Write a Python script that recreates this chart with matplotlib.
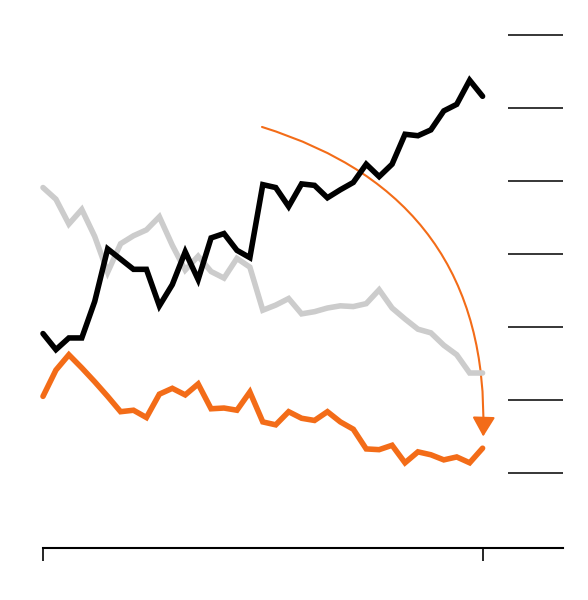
import matplotlib
matplotlib.use("Agg")
import matplotlib.pyplot as plt
from matplotlib.patches import FancyArrowPatch

# values (35 periods)
black_vals = [19.1, 16.9, 18.5, 18.5, 23.5, 30.7, 29.3, 27.9, 27.9, 22.9,
              25.8, 30.3, 26.5, 32.2, 32.8, 30.5, 29.5, 39.5, 39.1, 36.5,
              39.6, 39.4, 37.7, 38.8, 39.8, 42.3, 40.6, 42.3, 46.4, 46.2,
              47.0, 49.6, 50.5, 53.8, 51.6]
gray_vals = [39.1, 37.5, 34.1, 36.1, 32.4, 27.5, 31.4, 32.5, 33.3, 35.1,
             31.2, 27.8, 29.7, 27.6, 26.7, 29.4, 28.2, 22.3, 23.0, 23.9,
             21.8, 22.1, 22.6, 22.9, 22.8, 23.2, 25.1, 22.6, 21.1, 19.7,
             19.2, 17.5, 16.2, 13.7, 13.7]
orange_vals = [10.5, 14.1, 16.2, 14.4, 12.5, 10.5, 8.4, 8.6, 7.6, 10.8,
               11.6, 10.7, 12.2, 8.8, 8.9, 8.6, 11.1, 7.0, 6.6, 8.4,
               7.5, 7.2, 8.4, 7.0, 6.0, 3.3, 3.2, 3.8, 1.4, 2.9,
               2.5, 1.8, 2.2, 1.4, 3.4]
periods = list(range(len(black_vals)))
y_ticks = [0, 10, 20, 30, 40, 50, 60]
x_ticks = [0, 34]

ORANGE = "#f36c18"

fig = plt.figure(figsize=(5.88, 6), dpi=100)
ax = fig.add_axes([43 / 588, 52 / 600, 520 / 588, 528 / 600])

line_kw = dict(lw=4, solid_capstyle="round", solid_joinstyle="miter", clip_on=False)
ax.plot(periods, gray_vals, color="#cccccc", **line_kw)
ax.plot(periods, black_vals, color="black", **line_kw)
ax.plot(periods, orange_vals, color=ORANGE, **line_kw)

arrow = FancyArrowPatch((16.94, 47.4), (34.05, 5.0),
                        connectionstyle="arc3,rad=-0.38",
                        arrowstyle="-|>,head_length=12,head_width=7",
                        color=ORANGE, lw=1.5, shrinkA=0, shrinkB=0,
                        mutation_scale=1)
ax.add_patch(arrow)

ax.set_xlim(0, 40.22)
ax.set_ylim(-10.27, 62.05)

for s in ["left", "right", "top"]:
    ax.spines[s].set_visible(False)
ax.spines["bottom"].set_linewidth(1.5)

ax.set_xticks(x_ticks)
ax.set_xticklabels([])
ax.tick_params(axis="x", direction="out", length=9.5, width=1.2)

ax.yaxis.tick_right()
ax.set_yticks(y_ticks)
ax.set_yticklabels([])
ax.tick_params(axis="y", direction="in", length=39.6, width=1.1, right=True, left=False)

fig.savefig("out.png", dpi=100)
